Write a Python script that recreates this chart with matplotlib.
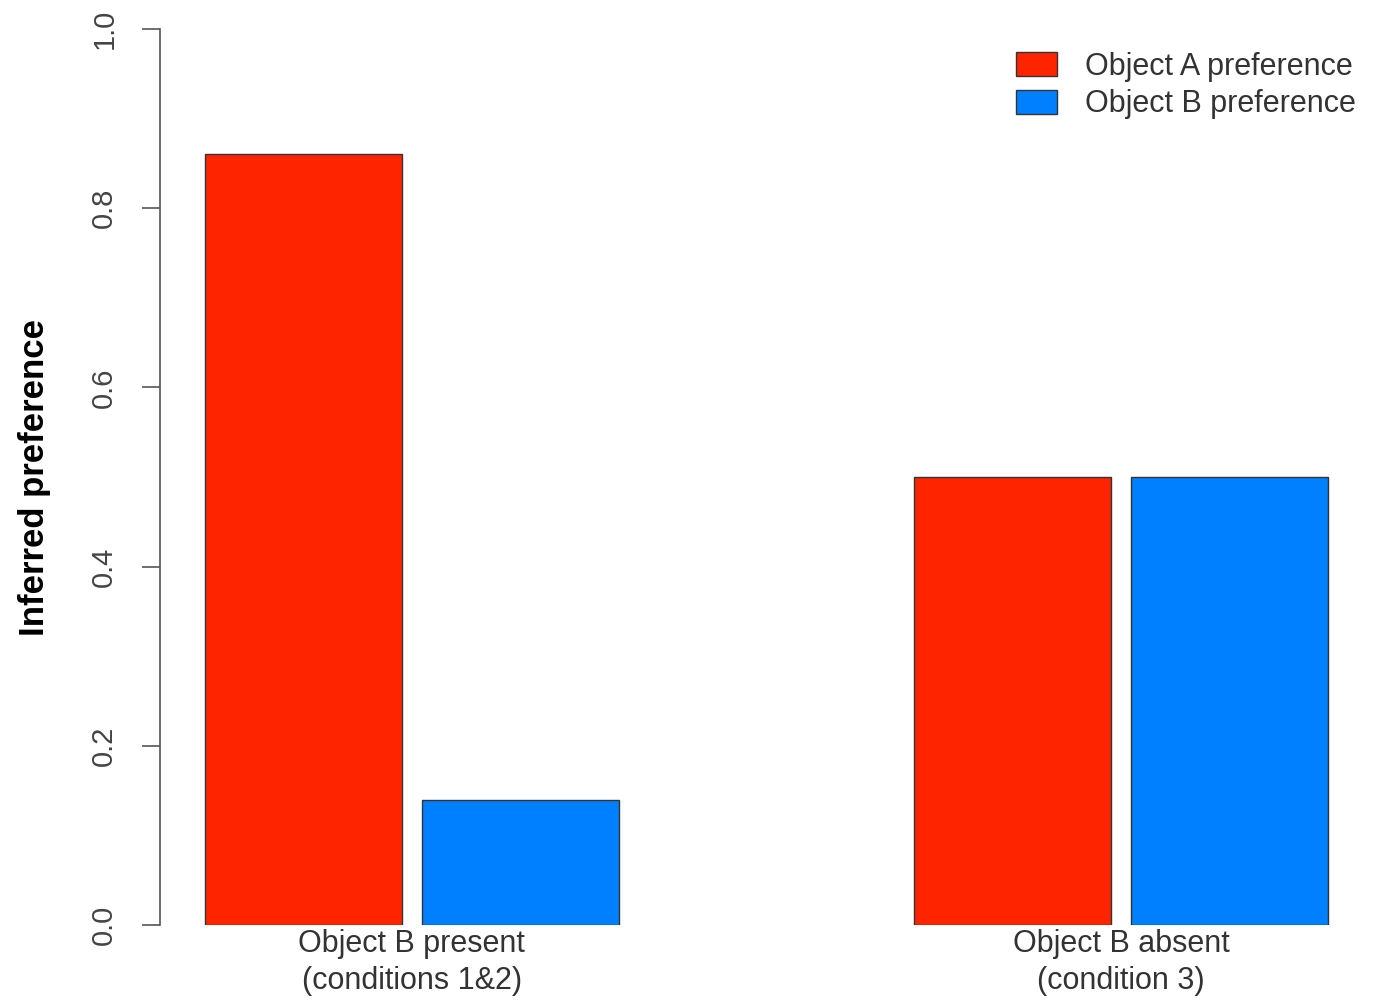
import matplotlib
matplotlib.use('Agg')
import matplotlib.pyplot as plt
import numpy as np

plt.rcParams['font.family'] = ['Liberation Sans', 'DejaVu Sans']

# data
groups = ['Object B present\n(conditions 1&2)', 'Object B absent\n(condition 3)']
series = ['Object A preference', 'Object B preference']
pref_a = [0.86, 0.50]
pref_b = [0.14, 0.50]
colors = ['#FF2400', '#007FFF']

W, H = 1376, 1002
fig = plt.figure(figsize=(W/100, H/100), dpi=100)
ax = fig.add_axes([160/W, (H-925)/H, (1373-160)/W, (925-29)/H])

# R-style barplot positions: width 1, space 0.1 within, 1.5 between groups
starts_a = np.array([0.0, 3.6])
starts_b = starts_a + 1.1
ax.bar(starts_a, pref_a, width=1, align='edge', color=colors[0],
       edgecolor='#333333', linewidth=1, label=series[0])
ax.bar(starts_b, pref_b, width=1, align='edge', color=colors[1],
       edgecolor='#333333', linewidth=1, label=series[1])

ax.set_xlim(-0.228, 5.928)
ax.set_ylim(0, 1)

for s in ['top', 'right', 'bottom']:
    ax.spines[s].set_visible(False)
ax.spines['left'].set_color('#555555')
ax.spines['left'].set_linewidth(1.2)

ax.set_yticks(np.arange(0, 1.01, 0.2))
ax.set_yticklabels(['0.0', '0.2', '0.4', '0.6', '0.8', '1.0'],
                   rotation=90, va='center', fontsize=21, color='#444444')
ax.tick_params(axis='y', length=13, width=1.2, color='#555555', pad=17)

ax.set_xticks((starts_a + starts_b + 1) / 2)
ax.set_xticklabels(groups, fontsize=22, color='#333333', linespacing=1.3)
ax.tick_params(axis='x', length=0, pad=3)

ax.set_ylabel('Inferred preference', fontsize=25, fontweight='bold', labelpad=28)

ax.legend(loc='upper right', bbox_to_anchor=(0.997, 0.99), frameon=False,
          fontsize=22, handlelength=1.35, handleheight=0.85,
          handletextpad=0.9, labelspacing=0.25, labelcolor='#333333',
          borderaxespad=0.05)

fig.savefig('out.png', dpi=100)
